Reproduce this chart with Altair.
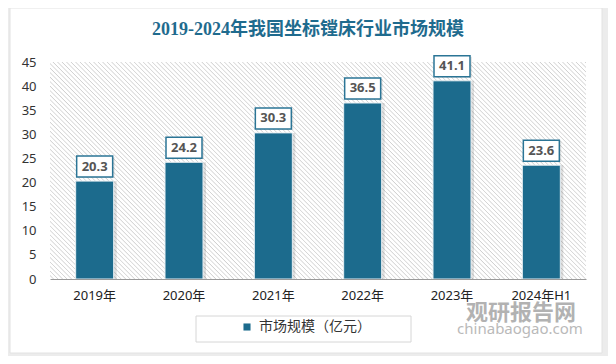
import altair as alt
import pandas as pd

# ---- data ----
categories = ["2019年", "2020年", "2021年", "2022年", "2023年", "2024年H1"]
values = [20.3, 24.2, 30.3, 36.5, 41.1, 23.6]
series_name = "市场规模（亿元）"
y_ticks = [0, 5, 10, 15, 20, 25, 30, 35, 40, 45]
title_text = "2019-2024年我国坐标镗床行业市场规模"

df = pd.DataFrame({"year": categories, "value": values, "series": [series_name] * len(categories)})

W, H = 536, 217
TEAL = "#1c6b8d"
CJK = "Noto Sans CJK SC"

# diagonal hatch as a striped linear gradient (decoration of the plot background)
def hatch_gradient(w, h, period=4.5, c_bg="#ffffff", c_line="#d0d0d0"):
    total = w + h
    n = int(total / period)
    d2 = w * w + h * h
    x2 = w * total / d2
    y2 = 1 - h * total / d2
    stops = []
    for i in range(n):
        stops += [
            {"offset": round(i / n, 6), "color": c_bg},
            {"offset": round((i + 0.55) / n, 6), "color": c_bg},
            {"offset": round((i + 0.8) / n, 6), "color": c_line},
        ]
    stops.append({"offset": 1, "color": c_bg})
    return {"gradient": "linear", "x1": 0, "y1": 1, "x2": x2, "y2": y2, "stops": stops}

one = alt.Data(values=[{}])

card = alt.Chart(one).mark_rect(fill="white", stroke="#e2e2e2").encode(
    x=alt.value(-40), x2=alt.value(552), y=alt.value(-54), y2=alt.value(291)
)

hatch = alt.Chart(one).mark_rect(fill=hatch_gradient(W, H)).encode(
    x=alt.value(0), x2=alt.value(W), y=alt.value(0), y2=alt.value(H)
)

title = alt.Chart(pd.DataFrame({"t": [title_text]})).mark_text(
    font="Liberation Serif, " + CJK, fontSize=18, fontWeight="bold", color="#1f6b8e",
    align="center", baseline="middle",
).encode(text="t:N", x=alt.value(258), y=alt.value(-32))

x_enc = alt.X(
    "year:N",
    sort=categories,
    scale=alt.Scale(domain=categories),
    axis=alt.Axis(
        title=None, labelAngle=0, ticks=False, tickSize=0, labelPadding=10,
        labelFontSize=13, labelColor="#222222", labelFont="Noto Sans, " + CJK,
        domainColor="#9a9a9a", domainWidth=1, zindex=1, labelOverlap=False,
    ),
)
y_enc = alt.Y(
    "value:Q",
    scale=alt.Scale(domain=[0, 45], nice=False),
    axis=alt.Axis(
        title=None, values=y_ticks, grid=False, domain=False, ticks=False, tickSize=0,
        labelPadding=14, labelFontSize=13, labelColor="#333333", labelFont="Noto Sans",
        zindex=1, labelOverlap=False, labelFlush=False,
    ),
)

base = alt.Chart(df)

shadow = base.mark_bar(width=38, color="#000000", opacity=0.12, xOffset=3).encode(
    x=x_enc, y=y_enc
)

bars = base.mark_bar(width=38, stroke="#e8f0f4", strokeWidth=1).encode(
    x=x_enc,
    y=y_enc,
    color=alt.Color(
        "series:N",
        scale=alt.Scale(domain=[series_name], range=[TEAL]),
        legend=alt.Legend(
            title=None, orient="none", legendX=190, legendY=258, padding=0,
            symbolType="square", symbolSize=50, symbolStrokeWidth=0,
            labelFontSize=14, labelColor="#333333", labelFont=CJK, labelOffset=5,
        ),
    ),
)

box_shadow = base.mark_bar(width=36, color="#000000", opacity=0.10, yOffset=-24, y2Offset=-3, xOffset=2).encode(
    x=x_enc, y=y_enc, y2=alt.Y2("value")
)
boxes = base.mark_bar(width=36, fill="white", stroke="#2b7596", strokeWidth=1.5, yOffset=-25, y2Offset=-4).encode(
    x=x_enc, y=y_enc, y2=alt.Y2("value")
)
labels = base.mark_text(
    fontSize=13, fontWeight="bold", color="#555555", font="Noto Sans", baseline="middle", yOffset=-14.5
).encode(x=x_enc, y=y_enc, text=alt.Text("value:Q", format=".1f"))

legend_box = alt.Chart(one).mark_rect(fill="white", fillOpacity=0, stroke="#d6d6d6", strokeWidth=1).encode(
    x=alt.value(146), x2=alt.value(361), y=alt.value(254), y2=alt.value(280)
)

wm1 = alt.Chart(pd.DataFrame({"t": ["观研报告网"]})).mark_text(
    font=CJK, fontSize=22, fontWeight="bold", color="#808080", opacity=0.6, align="center", baseline="middle"
).encode(text="t:N", x=alt.value(471), y=alt.value(251))
wm2 = alt.Chart(pd.DataFrame({"t": ["chinabaogao.com"]})).mark_text(
    font="Noto Sans", fontSize=15, color="#8c8c8c", opacity=0.6, align="center", baseline="middle"
).encode(text="t:N", x=alt.value(470), y=alt.value(267))

chart = alt.layer(
    card, hatch, title, shadow, bars, box_shadow, boxes, labels, legend_box, wm1, wm2
).properties(
    width=W,
    height=H,
    autosize=alt.AutoSizeParams(type="none"),
    padding={"left": 42, "top": 54, "right": 22, "bottom": 77},
    background="#ececec",
).configure_view(stroke=None)

chart.save("out.html", embed_options={"renderer": "svg", "actions": False})
